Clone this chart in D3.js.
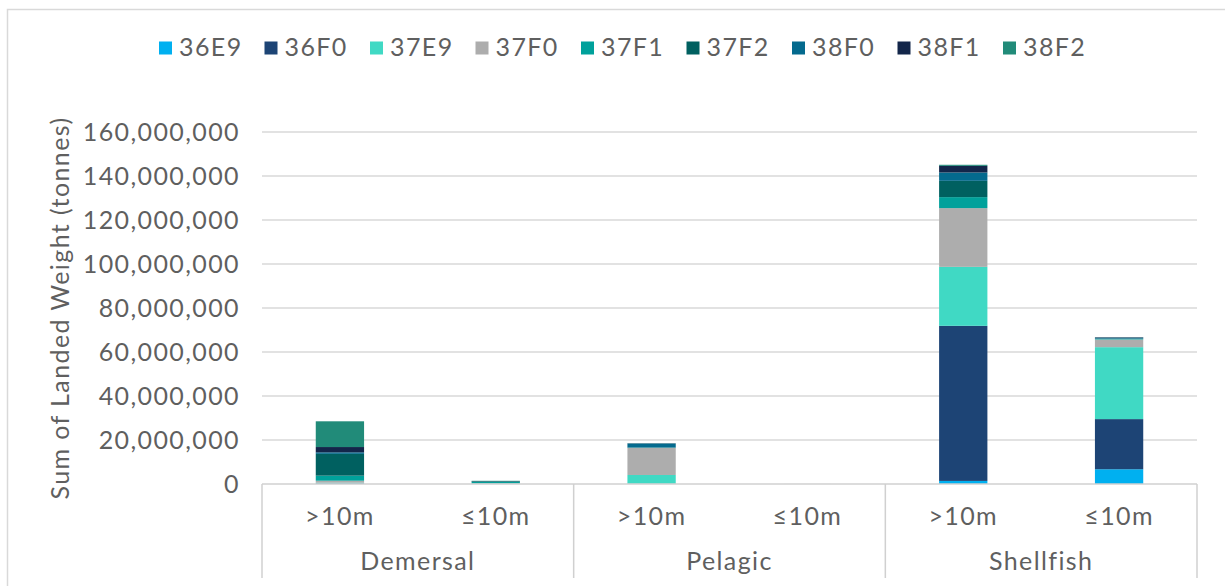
<!DOCTYPE html>
<html>
<head>
<meta charset="utf-8">
<script src="https://cdn.jsdelivr.net/npm/d3@7"></script>
<style>
  html, body { margin: 0; padding: 0; background: #ffffff; }
  svg { display: block; }
  text { font-family: Lato, "Open Sans", sans-serif; fill: #5f5f5f; font-weight: 400; }
</style>
</head>
<body>
<svg id="chart" width="1225" height="586"></svg>
<script>
// ---- data ----
const groups = ["Demersal", "Pelagic", "Shellfish"];
const subCategories = [">10m", "≤10m"];
const seriesNames = ["36E9", "36F0", "37E9", "37F0", "37F1", "37F2", "38F0", "38F1", "38F2"];
const seriesColors = ["#00b0f0", "#1d4475", "#40d9c4", "#adadad", "#00a19b", "#006060", "#046a8e", "#13264a", "#218b79"];
// order of values: Demersal >10m, Demersal ≤10m, Pelagic >10m, Pelagic ≤10m, Shellfish >10m, Shellfish ≤10m
const s36E9 = [100000, 20000, 50000, 0, 1400000, 6700000];
const s36F0 = [200000, 30000, 50000, 0, 70500000, 22800000];
const s37E9 = [300000, 50000, 4000000, 0, 26800000, 32700000];
const s37F0 = [900000, 200000, 12300000, 20000, 26700000, 3500000];
const s37F1 = [2300000, 600000, 100000, 0, 5000000, 200000];
const s37F2 = [9900000, 300000, 100000, 0, 7400000, 200000];
const s38F0 = [700000, 50000, 1800000, 0, 3800000, 400000];
const s38F1 = [2400000, 50000, 100000, 0, 3000000, 200000];
const s38F2 = [11700000, 150000, 50000, 0, 500000, 50000];
const yTicks = [0, 20000000, 40000000, 60000000, 80000000, 100000000, 120000000, 140000000, 160000000];
const yTitle = "Sum of Landed Weight (tonnes)";

const seriesValues = [s36E9, s36F0, s37E9, s37F0, s37F1, s37F2, s38F0, s38F1, s38F2];

(function draw() {
  const FS = "25px", LS = "1.4px";
  const slots = [];
  groups.forEach(g => subCategories.forEach(s => slots.push({ key: g + "|" + s, group: g, sub: s })));
  const table = slots.map((sl, i) => {
    const row = { key: sl.key };
    seriesNames.forEach((n, j) => row[n] = seriesValues[j][i]);
    return row;
  });
  const stacked = d3.stack().keys(seriesNames)(table);

  const svg = d3.select("#chart");
  const pL = 262, pR = 1197, pT = 132, pB = 484;

  svg.append("rect").attr("x", 7.5).attr("y", 9.5).attr("width", 1240).attr("height", 600)
    .attr("fill", "none").attr("stroke", "#d9d9d9").attr("stroke-width", 1.5);

  const x = d3.scaleBand().domain(slots.map(d => d.key)).range([pL, pR])
    .paddingInner(0.69).paddingOuter(0.345);
  const y = d3.scaleLinear().domain([0, 160000000]).range([pB, pT]);

  svg.append("g").selectAll("line").data(yTicks.filter(t => t > 0)).join("line")
    .attr("x1", pL).attr("x2", pR)
    .attr("y1", d => y(d)).attr("y2", d => y(d))
    .attr("stroke", "#d9d9d9").attr("stroke-width", 1.5);

  const yAxis = d3.axisLeft(y).tickValues(yTicks).tickFormat(d3.format(",")).tickSize(0).tickPadding(22);
  const yg = svg.append("g").attr("transform", `translate(${pL},0)`).call(yAxis);
  yg.select(".domain").remove();
  yg.attr("font-family", null).attr("font-size", null);
  yg.selectAll("text").style("font-size", FS).style("letter-spacing", LS)
    .attr("fill", "#5f5f5f");

  svg.append("text")
    .attr("transform", `translate(69,${(pT + pB) / 2}) rotate(-90)`)
    .attr("text-anchor", "middle")
    .style("font-size", FS).style("letter-spacing", LS)
    .text(yTitle);

  svg.append("g").selectAll("g").data(stacked).join("g")
    .attr("fill", (d, i) => seriesColors[i])
    .selectAll("rect").data(d => d).join("rect")
    .attr("x", d => x(d.data.key))
    .attr("width", x.bandwidth())
    .attr("y", d => y(d[1]))
    .attr("height", d => Math.max(0, y(d[0]) - y(d[1])));

  const axisColor = "#d0d0d0";
  svg.append("line").attr("x1", pL).attr("x2", pR).attr("y1", pB).attr("y2", pB)
    .attr("stroke", axisColor).attr("stroke-width", 1.5);
  const groupWidth = (pR - pL) / groups.length;
  const groupEdges = d3.range(groups.length + 1).map(i => pL + i * groupWidth);
  svg.append("g").selectAll("line").data(groupEdges).join("line")
    .attr("x1", d => d).attr("x2", d => d).attr("y1", pB).attr("y2", 578)
    .attr("stroke", axisColor).attr("stroke-width", 1.5);

  svg.append("g").selectAll("text").data(slots).join("text")
    .attr("x", d => x(d.key) + x.bandwidth() / 2)
    .attr("y", 525)
    .attr("text-anchor", "middle")
    .style("font-size", FS).style("letter-spacing", LS)
    .text(d => d.sub);

  svg.append("g").selectAll("text").data(groups).join("text")
    .attr("x", (d, i) => pL + (i + 0.5) * groupWidth)
    .attr("y", 570)
    .attr("text-anchor", "middle")
    .style("font-size", FS).style("letter-spacing", LS)
    .text(d => d);

  const legendStart = 159;
  const legendStep = 105.5;
  const lg = svg.append("g").selectAll("g").data(seriesNames).join("g")
    .attr("transform", (d, i) => `translate(${legendStart + i * legendStep},0)`);
  lg.append("rect").attr("x", 0).attr("y", 41.5).attr("width", 13).attr("height", 13)
    .attr("fill", (d, i) => seriesColors[i]);
  lg.append("text").attr("x", 20).attr("y", 56)
    .style("font-size", FS).style("letter-spacing", LS)
    .text(d => d);
})();
</script>
</body>
</html>
